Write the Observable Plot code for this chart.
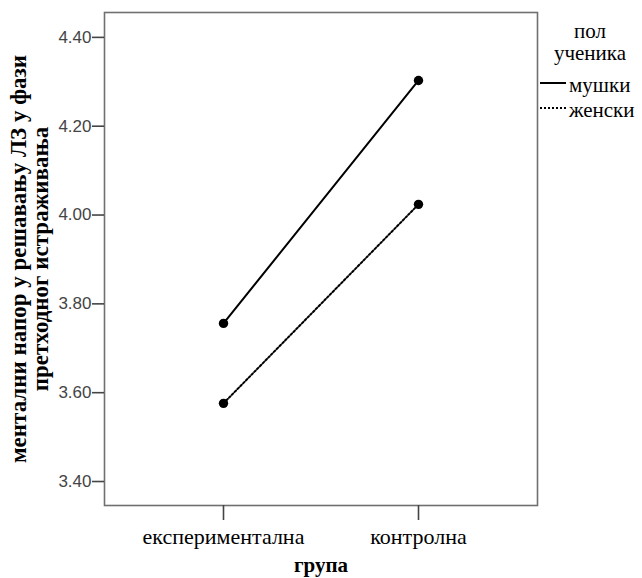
<!DOCTYPE html>
<html><head><meta charset="utf-8">
<script src="https://cdn.jsdelivr.net/npm/d3@7"></script>
<script src="https://cdn.jsdelivr.net/npm/@observablehq/plot@0.6"></script>
<style>
body{margin:0;background:#fff;}
#wrap{position:relative;width:642px;height:578px;}
#legend{position:absolute;left:0;top:0;}
</style></head>
<body><div id="wrap"><div id="chart"></div><svg id="legend" width="642" height="130"></svg></div>
<script>
const groups = ["експериментална", "контролна"];
const series = ["мушки", "женски"];
const male = [3.756, 4.303];
const female = [3.576, 4.024];
const yTicks = [3.40, 3.60, 3.80, 4.00, 4.20, 4.40];
const legendTitle = ["пол", "ученика"];
const yTitle = ["ментални напор у решавању ЛЗ у фази", "претходног истраживања"];
const xTitle = "група";
const dashes = {"мушки": null, "женски": "2,2"};

const serif = "Liberation Serif, Times New Roman, serif";
const data = [];
groups.forEach((g, i) => {
  data.push({group: g, sex: series[0], value: male[i]});
  data.push({group: g, sex: series[1], value: female[i]});
});

const chart = Plot.plot({
  width: 642, height: 578,
  marginLeft: 104, marginRight: 105, marginTop: 12, marginBottom: 73,
  style: {fontFamily: "Liberation Sans, Arial, sans-serif", background: "#fff"},
  x: {type: "point", domain: groups, padding: 0.61, label: null},
  y: {domain: [3.346, 4.456], label: null},
  marks: [
    Plot.frame({stroke: "#707070", strokeWidth: 1.6}),
    Plot.axisY({ticks: yTicks, tickFormat: d3.format(".2f"), tickSize: 12, tickPadding: 1,
      stroke: "#444", fill: "#444", fontSize: 17, strokeWidth: 1.6}),
    Plot.axisX({tickSize: 15, tickPadding: 8, stroke: "#444", fill: "#000", fontSize: 22,
      fontFamily: serif, strokeWidth: 1.6}),
    ...series.map(s => Plot.line(data.filter(d => d.sex === s), {
      x: "group", y: "value", stroke: "#000", strokeWidth: 2, strokeDasharray: dashes[s]})),
    Plot.dot(data, {x: "group", y: "value", r: 4.7, fill: "#000", stroke: "none"}),
    Plot.text([xTitle], {frameAnchor: "bottom", lineAnchor: "middle", dy: 60, fontSize: 21, fontWeight: "bold",
      fontFamily: serif, fill: "#000"}),
    ...yTitle.map((t, i) => Plot.text([t], {
      frameAnchor: "left", textAnchor: "middle", lineAnchor: "middle",
      dx: i === 0 ? -86 : -64, rotate: -90, fontSize: 23, fontWeight: "bold",
      fontFamily: serif, fill: "#000"}))
  ]
});
document.getElementById("chart").appendChild(chart);

const lg = d3.select("#legend").style("font-family", serif).style("font-size", "21px");
legendTitle.forEach((t, i) => lg.append("text").attr("x", 590).attr("y", 38 + i * 22)
  .attr("text-anchor", "middle").text(t));
series.forEach((s, i) => {
  const y = 83 + i * 25;
  lg.append("line").attr("x1", 540).attr("x2", 566).attr("y1", y).attr("y2", y)
    .attr("stroke", "#000").attr("stroke-width", 2).attr("stroke-dasharray", dashes[s]);
  lg.append("text").attr("x", 569).attr("y", y + 9).text(s);
});
</script></body></html>
